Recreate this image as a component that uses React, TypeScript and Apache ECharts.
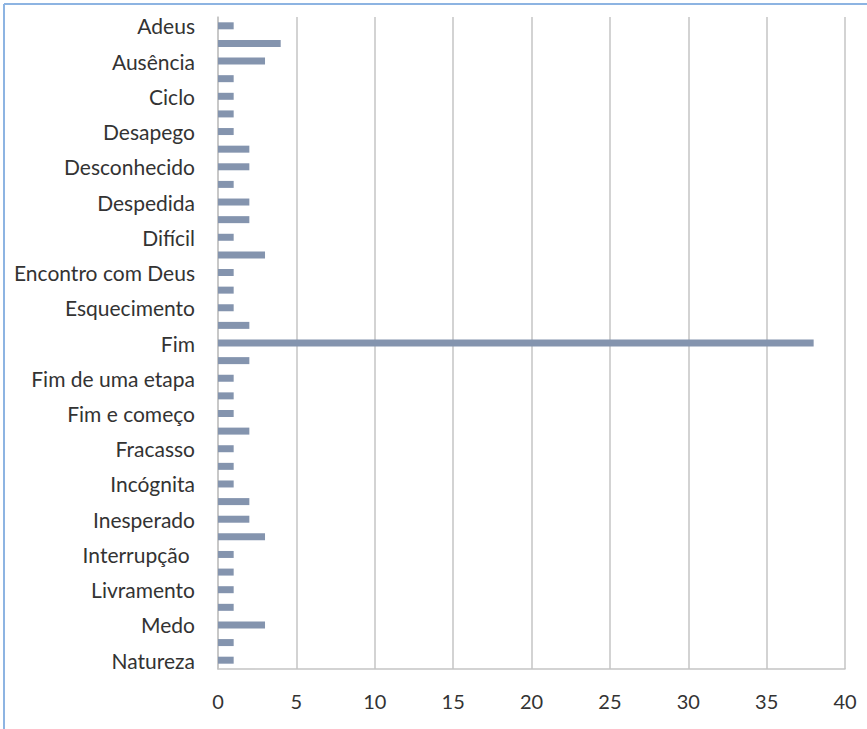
import React, { useEffect, useRef } from "react";
import * as echarts from "echarts";

// Word associations, alphabetical (top to bottom)
const categories = [
  "Adeus", "Angústia", "Ausência", "Choro", "Ciclo", "Conclusão", "Desapego",
  "Descanso", "Desconhecido", "Desespero", "Despedida", "Destino", "Difícil",
  "Dor", "Encontro com Deus", "Entrega", "Esquecimento", "Eternidade", "Fim",
  "Fim da vida", "Fim de uma etapa", "Fim do sofrimento", "Fim e começo",
  "Finitude", "Fracasso", "Impotência", "Incógnita", "Indiferença",
  "Inesperado", "Inevitável", "Interrupção ", "Libertação", "Livramento",
  "Luto", "Medo", "Mistério", "Natureza",
];

const counts = [
  1, 4, 3, 1, 1, 1, 1,
  2, 2, 1, 2, 2, 1,
  3, 1, 1, 1, 2, 38,
  2, 1, 1, 1,
  2, 1, 1, 1, 2,
  2, 3, 1, 1, 1,
  1, 3, 1, 1,
];

const xTicks = { min: 0, max: 40, interval: 5 };

const FONT = "Lato, 'Open Sans', sans-serif";
const TEXT = "#333333";
const GRID_LINE = "#c4c4c4";

export default function App() {
  const ref = useRef<HTMLDivElement>(null);

  useEffect(() => {
    if (!ref.current) return;
    const chart = echarts.init(ref.current, undefined, { renderer: "svg" });
    chart.setOption({
      animation: false,
      backgroundColor: "#ffffff",
      grid: { left: 218, right: 22, top: 17, bottom: 60, containLabel: false },
      graphic: [
        {
          type: "line",
          shape: { x1: 4, y1: 4, x2: 867, y2: 4 },
          style: { stroke: "#8db4e2", lineWidth: 2 },
          silent: true,
        },
        {
          type: "line",
          shape: { x1: 4, y1: 4, x2: 4, y2: 729 },
          style: { stroke: "#8db4e2", lineWidth: 2 },
          silent: true,
        },
      ],
      xAxis: {
        type: "value",
        min: xTicks.min,
        max: xTicks.max,
        interval: xTicks.interval,
        axisLine: { show: true, lineStyle: { color: GRID_LINE, width: 1.5 } },
        axisTick: { show: false },
        splitLine: { show: true, lineStyle: { color: GRID_LINE, width: 1.5 } },
        axisLabel: {
          color: TEXT,
          fontFamily: FONT,
          fontSize: 20,
          margin: 22,
        },
      },
      yAxis: {
        type: "category",
        data: categories,
        inverse: true,
        axisLine: { show: true, lineStyle: { color: GRID_LINE, width: 1.5 } },
        axisTick: { show: false },
        splitLine: { show: false },
        axisLabel: {
          interval: 1,
          color: TEXT,
          fontFamily: FONT,
          fontSize: 21,
          margin: 23,
        },
      },
      series: [
        {
          type: "bar",
          data: counts,
          barWidth: 7,
          itemStyle: { color: "#8494ae" },
        },
      ],
    });
    return () => chart.dispose();
  }, []);

  return (
    <div
      ref={ref}
      style={{ position: "fixed", left: 0, top: 0, width: 867, height: 729 }}
    />
  );
}
